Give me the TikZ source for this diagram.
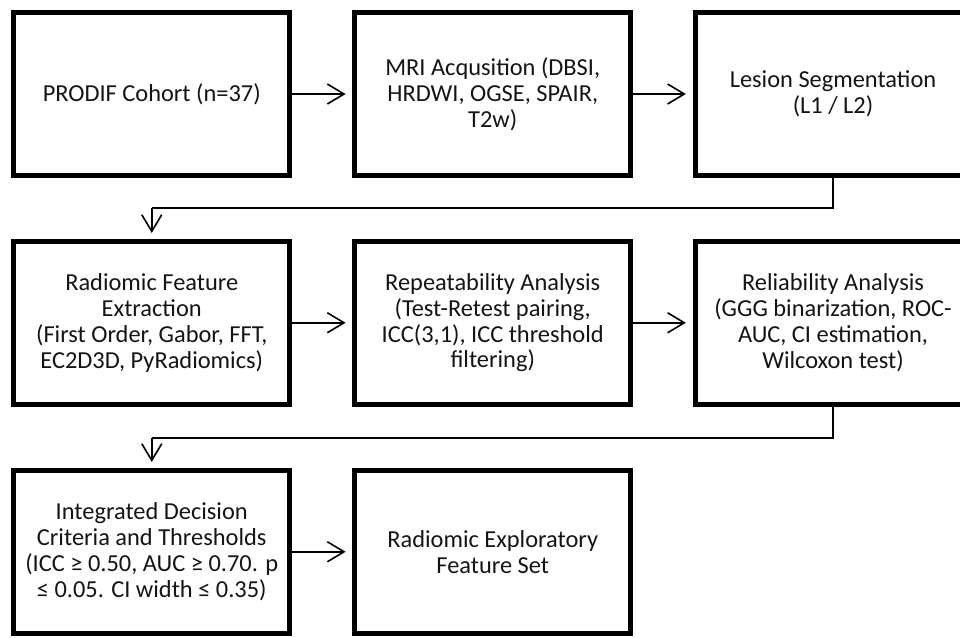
\documentclass[tikz,border=0pt]{standalone}
\usepackage{fontspec}
\setmainfont{Carlito}
\usetikzlibrary{arrows.meta}

\begin{document}
\begin{tikzpicture}[x=0.75pt,y=-0.75pt,
  stepbox/.style={draw=black, line width=3.75pt, rectangle, inner sep=0pt,
    minimum width=207pt, minimum height=122pt, align=center,
    font=\fontsize{18.3pt}{19.4pt}\selectfont, text=black!92},
  flow/.style={line width=1.2pt, -{Straight Barb[length=12.5pt,width=15pt,line width=1.2pt]}},
  link/.style={line width=1.2pt}
]
\useasboundingbox (0,0) rectangle (960,637);
\clip (0,0) rectangle (960,637);

% first row
\node[stepbox] (cohort) at (151.75,94) {PRODIF Cohort (n=37)};
\node[stepbox] (mri) at (492.75,94) {MRI Acqusition (DBSI,\\HRDWI, OGSE, SPAIR,\\T2w)};
\node[stepbox] (seg) at (833,94) {Lesion Segmentation\\(L1 / L2)};

% second row
\node[stepbox] (extract) at (151.75,322.75) {Radiomic Feature\\Extraction\\(First Order, Gabor, FFT,\\EC2D3D, PyRadiomics)};
\node[stepbox] (repeat) at (492.75,322.75) {Repeatability Analysis\\(Test-Retest pairing,\\ICC(3,1), ICC threshold\\filtering)};
\node[stepbox] (reliab) at (833,322.75) {Reliability Analysis\\(GGG binarization, ROC-\\AUC, CI estimation,\\Wilcoxon test)};

% third row
\node[stepbox] (decision) at (151.75,551.75) {Integrated Decision\\Criteria and Thresholds\\(ICC ≥ 0.50, AUC ≥ 0.70. p\\≤ 0.05. CI width ≤ 0.35)};
\node[stepbox] (featset) at (492.75,551.75) {Radiomic Exploratory\\Feature Set};

% turning points of the row-to-row links
\coordinate (r1a) at (833,208);
\coordinate (r1b) at (151.75,208);
\coordinate (r2a) at (833,438);
\coordinate (r2b) at (151.75,438);

% connectors
\draw[flow] (cohort.east) -- ([xshift=-5pt]mri.west);
\draw[flow] (mri.east) -- ([xshift=-5pt]seg.west);
\draw[link] (seg.south) -- (r1a) -- (r1b);
\draw[flow] (r1b) -- ([yshift=4.5pt]extract.north);
\draw[flow] (extract.east) -- ([xshift=-5pt]repeat.west);
\draw[flow] (repeat.east) -- ([xshift=-5pt]reliab.west);
\draw[link] (reliab.south) -- (r2a) -- (r2b);
\draw[flow] (r2b) -- ([yshift=4.5pt]decision.north);
\draw[flow] (decision.east) -- ([xshift=-5pt]featset.west);
\end{tikzpicture}
\end{document}
